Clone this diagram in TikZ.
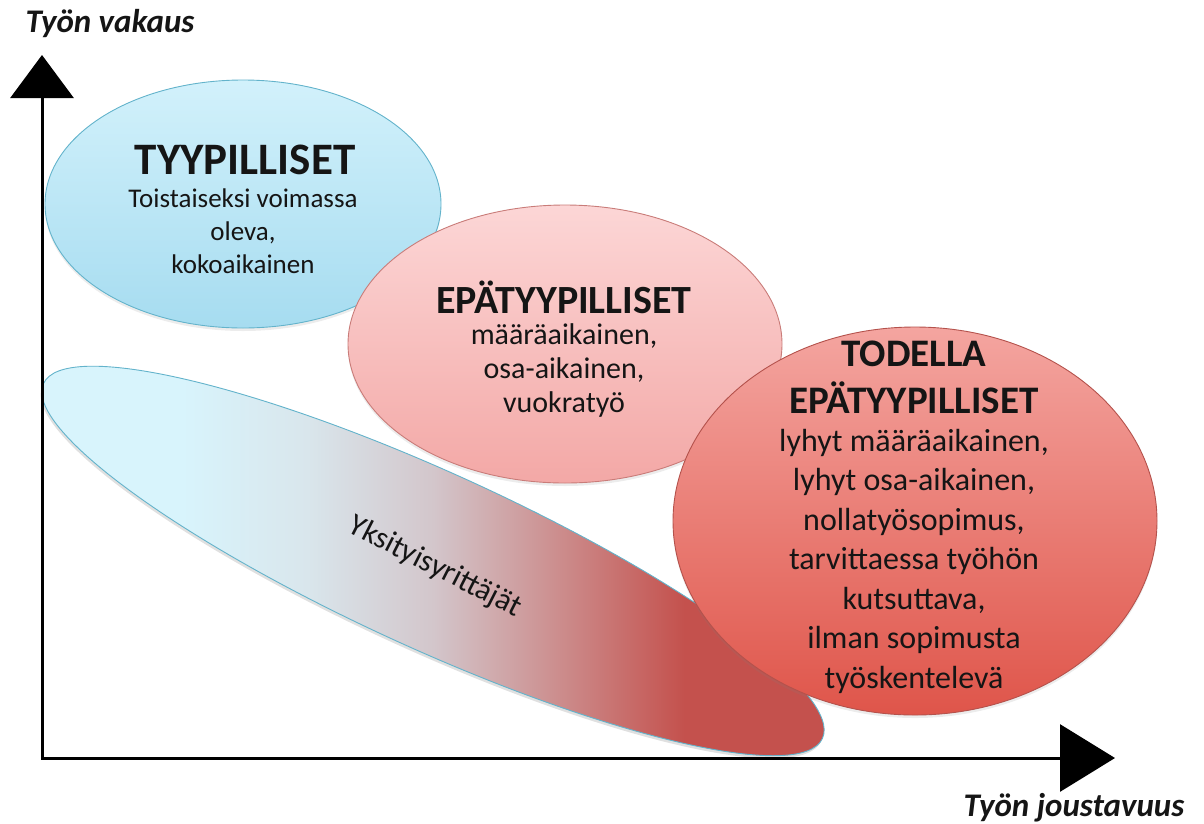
\documentclass[tikz,border=0pt]{standalone}
\usepackage{fontspec}
\setmainfont{Carlito}
\usetikzlibrary{arrows.meta,positioning,shapes.geometric,shadows}

\definecolor{typtop}{HTML}{D2F1FB}
\definecolor{typbot}{HTML}{A6DCF0}
\definecolor{typline}{HTML}{63B3CB}
\definecolor{epatop}{HTML}{FCD6D6}
\definecolor{epabot}{HTML}{F3A8A6}
\definecolor{epaline}{HTML}{C97C79}
\definecolor{todtop}{HTML}{F4A5A0}
\definecolor{todbot}{HTML}{DF554A}
\definecolor{todline}{HTML}{B4524C}
\definecolor{ycyan}{HTML}{D8F4FC}
\definecolor{ylight}{HTML}{D9E6EC}
\definecolor{ygray}{HTML}{D3C6CB}
\definecolor{ypink}{HTML}{CC8D8D}
\definecolor{yred}{HTML}{C4514D}
\definecolor{txt}{HTML}{151515}

\pgfdeclarehorizontalshading{yksfade}{100bp}{color(0bp)=(ycyan); color(34bp)=(ycyan);
  color(42bp)=(ylight); color(50bp)=(ygray); color(58bp)=(ypink); color(66bp)=(yred); color(100bp)=(yred)}

\begin{document}
\begin{tikzpicture}[
  x=1pt,y=-1pt,
  oval/.style={ellipse,draw,line width=0.9pt,inner sep=0pt,
               drop shadow={shadow xshift=0pt,shadow yshift=-3pt,opacity=.15}},
  lbl/.style={text=txt,align=center,inner sep=0pt},
  axis/.style={line width=3pt,line cap=rect}
]
\useasboundingbox (0,0) rectangle (1204,823);

% ellipses
\node[oval,draw=typline,top color=typtop,bottom color=typbot,
      minimum width=396pt,minimum height=248pt] (typ) at (243,204) {};
\node[oval,draw=epaline,top color=epatop,bottom color=epabot,
      minimum width=434pt,minimum height=278pt] (epa) at (565,344) {};

% yksityisyrittajat band
\coordinate (ykc) at (433,561);
\fill[black,opacity=.12,rotate around={-24.5:(ykc)}] ([yshift=-3pt]ykc) ellipse [x radius=428,y radius=88];
\begin{scope}
  \clip[rotate around={-24.5:(ykc)}] (ykc) ellipse [x radius=428,y radius=88];
  \shade[shading=yksfade] (40,366) rectangle (826,758);
\end{scope}
\draw[typline,line width=0.9pt,rotate around={-24.5:(ykc)}] (ykc) ellipse [x radius=428,y radius=88];

\node[oval,draw=todline,top color=todtop,bottom color=todbot,
      minimum width=484pt,minimum height=388pt] (tod) at (915,521) {};

% texts
\node[lbl,font=\bfseries\fontsize{45}{54}\selectfont] (typhead) at (245,160) {TYYPILLISET};
\node[lbl,font=\fontsize{27}{33}\selectfont] (typbody) at (243,231)
  {Toistaiseksi voimassa\\oleva,\\kokoaikainen};

\node[lbl,font=\bfseries\fontsize{40}{48}\selectfont] (epahead) at (564,297) {EPÄTYYPILLISET};
\node[lbl,font=\fontsize{30}{34}\selectfont] (epabody) at (564,370)
  {määräaikainen,\\osa-aikainen,\\vuokratyö};

\node[lbl,font=\bfseries\fontsize{39}{47}\selectfont] (todhead) at (914,377)
  {TODELLA\\EPÄTYYPILLISET};
\node[lbl,font=\fontsize{32}{39.5}\selectfont] (todbody) at (914,561)
  {lyhyt määräaikainen,\\lyhyt osa-aikainen,\\nollatyösopimus,\\tarvittaessa työhön\\kutsuttava,\\ilman sopimusta\\työskentelevä};

\node[lbl,font=\fontsize{31}{36}\selectfont,rotate=-27] (ykstxt) at (435,567) {Yksityisyrittäjät};

% axes
\coordinate (o) at (42,758);
\coordinate (ytip) at (42,55);
\coordinate (xtip) at (1115,758);
\draw[axis,-{Triangle[length=43pt,width=63pt]}] (o) -- (ytip);
\draw[axis,-{Triangle[length=55pt,width=67pt]}] (o) -- (xtip);

\node[lbl,font=\bfseries\itshape\fontsize{33}{39}\selectfont,anchor=base] (vakaus) at (110,32) {Työn vakaus};
\node[lbl,font=\bfseries\itshape\fontsize{33}{39}\selectfont,anchor=base] (jousto) at (1074,816) {Työn joustavuus};
\end{tikzpicture}
\end{document}
